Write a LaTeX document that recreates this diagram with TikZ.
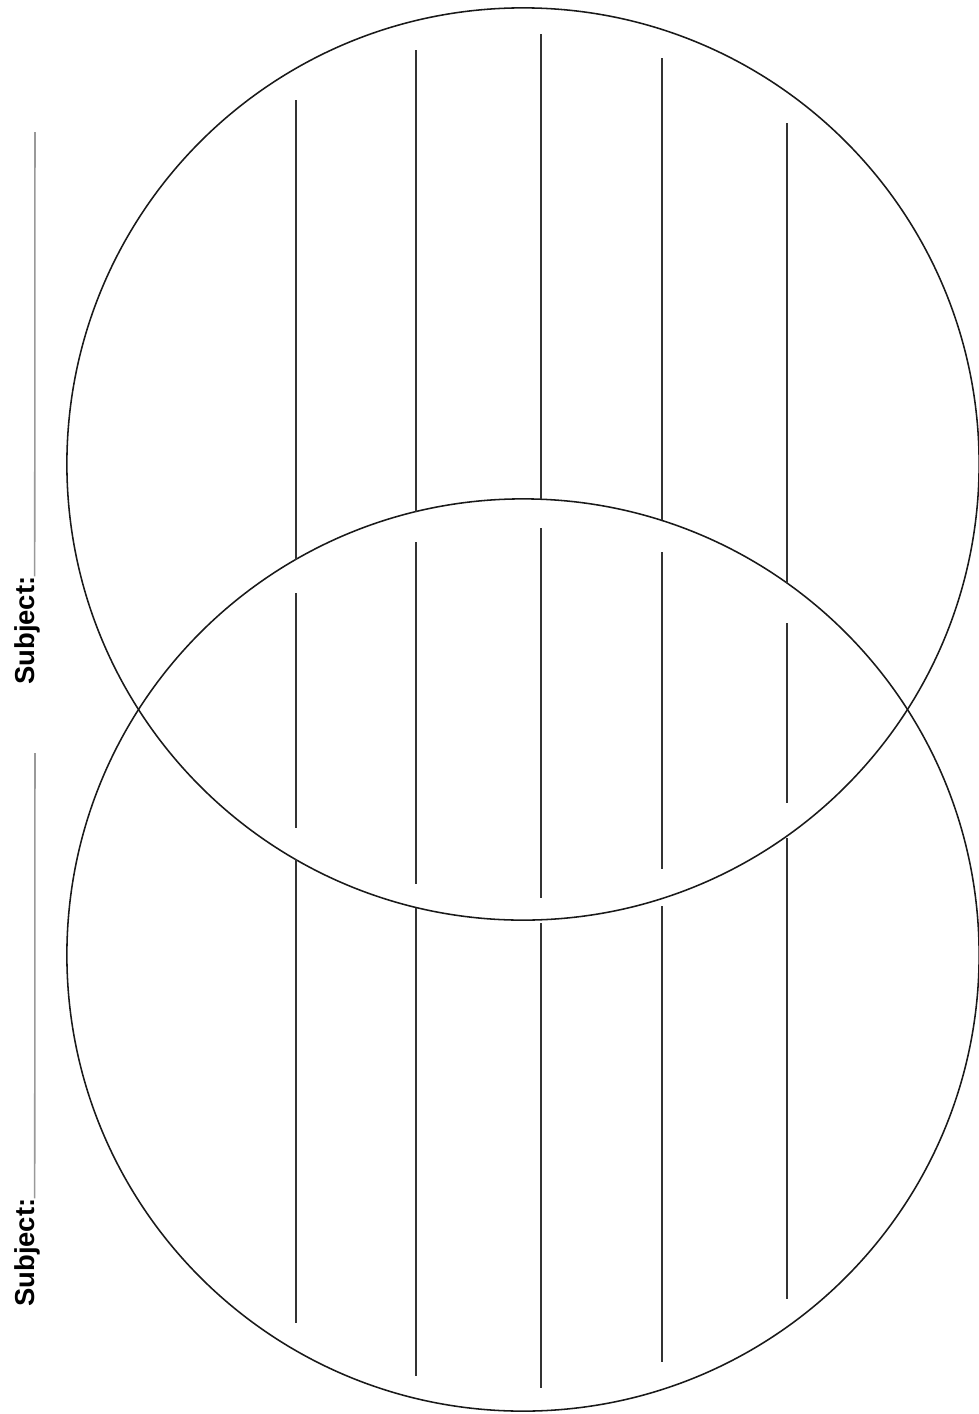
\documentclass[tikz,border=0pt]{standalone}
\usepackage{fontspec}
\setmainfont{Liberation Sans}
\usepackage{tikz}
\usetikzlibrary{positioning}

\begin{document}
\begin{tikzpicture}[x=0.025cm, y=-0.025cm,
  ring/.style={draw=black!90, line width=1.1pt},
  rule/.style={draw=black!80, line width=1.2pt},
  subj/.style={rotate=90, anchor=base west, inner sep=0pt,
               font=\fontsize{19.5}{22}\selectfont\bfseries},
  blank/.style={draw=gray!80, line width=1.1pt}]

  \useasboundingbox (0,0) rectangle (979,1414);

  % the two circles
  \coordinate (topc) at (523,464);
  \coordinate (botc) at (523,955);
  \draw[ring] (topc) circle [radius=11.4cm];
  \draw[ring] (botc) circle [radius=11.4cm];

  % writing lines, broken where they meet the circles
  % x / top / arc / mid start / mid end / arc / bottom
  \foreach \x/\ya/\yb/\yc/\yd/\ye/\yf in {
      296/100/560/593/828/859/1323,
      416/50/512/542/884/908/1376,
      541/34/499/528/898/923/1388,
      662/58/520/552/869/906/1362,
      787/123/583/623/803/838/1299}{
    \draw[rule] (\x,\ya) -- (\x,\yb);
    \draw[rule] (\x,\yc) -- (\x,\yd);
    \draw[rule] (\x,\ye) -- (\x,\yf);
  }

  % subject labels with a blank to fill in
  \node[subj] (subjB) at (34,1307) {Subject:};
  \coordinate (endB) at (35,753);
  \draw[blank] ([xshift=0.5pt]subjB.base east) -- (endB);

  \node[subj] (subjT) at (34,685) {Subject:};
  \coordinate (endT) at (35,132);
  \draw[blank] ([xshift=0.5pt]subjT.base east) -- (endT);
\end{tikzpicture}
\end{document}
